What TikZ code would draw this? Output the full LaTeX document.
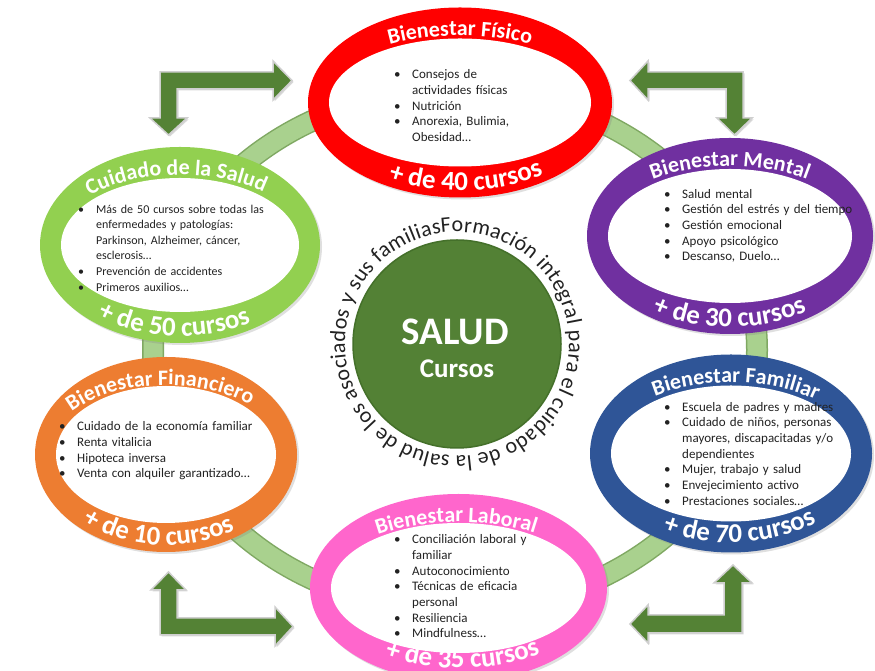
\documentclass[tikz,border=0pt]{standalone}
\usepackage{fontspec}
\setmainfont{Carlito}
\usetikzlibrary{shapes.geometric,decorations.text,shadows}
\definecolor{cRed}{HTML}{FF0000}
\definecolor{cPurple}{HTML}{7030A0}
\definecolor{cBlue}{HTML}{2F5597}
\definecolor{cPink}{HTML}{FF66CC}
\definecolor{cOrange}{HTML}{ED7D31}
\definecolor{cLime}{HTML}{92D050}
\definecolor{cGreen}{HTML}{538135}
\definecolor{cGreenD}{HTML}{44702A}
\definecolor{ringFill}{HTML}{A9D18E}
\definecolor{ringEdge}{HTML}{7FA862}
\definecolor{arrowFill}{HTML}{548235}
\definecolor{arrowEdge}{HTML}{CFCFCF}
\definecolor{textDark}{HTML}{222222}
\newcommand\bul[1]{\hangindent=18pt\hangafter=1\noindent\strut\makebox[18pt][l]{\textbullet}#1\par}
\newcommand\arctext[8]{\path[decorate,decoration={text along path,text align=center,text={|#7|#8}},shift={(#1,#2)}] (#5:#3 and #4) arc[start angle=#5,end angle=#6,x radius=#3,y radius=#4];}
\newcommand\ttl{\bfseries\fontsize{22}{22}\selectfont\color{white}}
\newcommand\cnt{\bfseries\fontsize{27}{27}\selectfont\color{white}}
\tikzset{
  outerell/.style={ellipse, inner sep=0, outer sep=0, draw=none, drop shadow={opacity=0.25, shadow xshift=2pt, shadow yshift=-2pt}},
  innerell/.style={ellipse, inner sep=0, outer sep=0, draw=none, fill=white},
  listbox/.style={anchor=north west, inner sep=0, align=left, text width=220pt, text=textDark, font=\fontsize{13}{15.7}\selectfont},
  bentarrow/.style={fill=arrowFill, draw=arrowEdge, line width=1.5pt, line join=miter, drop shadow={opacity=0.3, shadow xshift=1.5pt, shadow yshift=-1.5pt}},
}
\begin{document}
\begin{tikzpicture}[x=1pt,y=1pt]
\useasboundingbox (0,0) rectangle (875,671);
\clip (0,0) rectangle (875,671);
\fill[white] (0,0) rectangle (875,671);
% ring
\draw[draw=ringEdge, line width=22] (455,321) ellipse [x radius=302, y radius=260];
\draw[draw=ringFill, line width=19] (455,321) ellipse [x radius=302, y radius=260];
% arrows
\path[bentarrow] (160,599) -- (273,599) -- (273,610) -- (292,590.5) -- (273,571) -- (273,582) -- (177,582) -- (177,553) -- (187,553) -- (168.5,536) -- (150,553) -- (160,553) -- cycle;
\path[bentarrow] (743,599) -- (743,553) -- (752,553) -- (734.5,536) -- (717,553) -- (726,553) -- (726,582) -- (648,582) -- (648,571) -- (630,590.5) -- (648,610) -- (648,599) -- cycle;
\path[bentarrow] (160,36) -- (160,81) -- (151,81) -- (168.5,99) -- (186,81) -- (177,81) -- (177,53) -- (275,53) -- (275,64) -- (293,44.5) -- (275,25) -- (275,36) -- cycle;
\path[bentarrow] (742,38) -- (648,38) -- (648,28) -- (630,47) -- (648,66) -- (648,56) -- (724,56) -- (724,88) -- (714,88) -- (733,106) -- (752,88) -- (742,88) -- cycle;
% ellipses
\node[outerell, fill=cRed, minimum width=304, minimum height=190] (fisico) at (460,568.5) {};
\node[innerell, minimum width=262, minimum height=128] (fisicoIn) at (fisico.center) {};
\node[outerell, fill=cPurple, minimum width=286, minimum height=196] (mental) at (730,435) {};
\node[innerell, minimum width=244, minimum height=134] (mentalIn) at (mental.center) {};
\node[outerell, fill=cBlue, minimum width=282, minimum height=198] (familiar) at (731,217.5) {};
\node[innerell, minimum width=240, minimum height=136] (familiarIn) at (familiar.center) {};
\node[outerell, fill=cPink, minimum width=297, minimum height=188] (laboral) at (458.5,83) {};
\node[innerell, minimum width=255, minimum height=130] (laboralIn) at (laboral.center) {};
\node[outerell, fill=cOrange, minimum width=262, minimum height=195] (financiero) at (166,216.5) {};
\node[innerell, minimum width=220, minimum height=137] (financieroIn) at (financiero.center) {};
\node[outerell, fill=cLime, minimum width=280, minimum height=196] (salud) at (180,426) {};
\node[innerell, minimum width=238, minimum height=134] (saludIn) at (salud.center) {};
% titles and counts
\arctext{460}{568.5}{140}{67}{180}{0}{\ttl}{Bienestar Físico}
\arctext{460}{568.5}{146}{88}{194}{354}{\cnt}{+ de 40 cursos}
\arctext{730}{435}{131}{70}{180}{0}{\ttl}{Bienestar Mental}
\arctext{730}{435}{137}{91}{190}{350}{\cnt}{+ de 30 cursos}
\arctext{731}{217.5}{129}{71}{176}{-4}{\ttl}{Bienestar Familiar}
\arctext{731}{217.5}{135}{89}{196}{356}{\cnt}{+ de 70 cursos}
\arctext{458.5}{83}{136}{66}{182}{2}{\ttl}{Bienestar Laboral}
\arctext{458.5}{83}{142}{80}{193}{353}{\cnt}{+ de 35 cursos}
\arctext{166}{216.5}{119}{69.5}{185}{5}{\ttl}{Bienestar Financiero}
\arctext{166}{216.5}{125}{90.5}{185}{345}{\cnt}{+ de 10 cursos}
\arctext{180}{426}{128}{70}{183}{3}{\ttl}{Cuidado de la Salud}
\arctext{180}{426}{134}{91}{186}{346}{\cnt}{+ de 50 cursos}
% lists
\node[listbox] (fisicoL) at (394,603.5) {\bul{Consejos de\newline actividades físicas}\bul{Nutrición}\bul{Anorexia, Bulimia,\newline Obesidad…}};
\node[listbox] (mentalL) at (664,484) {\bul{Salud mental}\bul{Gestión del estrés y del tiempo}\bul{Gestión emocional}\bul{Apoyo psicológico}\bul{Descanso, Duelo…}};
\node[listbox] (familiarL) at (664,271) {\bul{Escuela de padres y madres}\bul{Cuidado de niños, personas\newline mayores, discapacitadas y/o\newline dependientes}\bul{Mujer, trabajo y salud}\bul{Envejecimiento activo}\bul{Prestaciones sociales…}};
\node[listbox] (laboralL) at (394,138.5) {\bul{Conciliación laboral y\newline familiar}\bul{Autoconocimiento}\bul{Técnicas de eficacia\newline personal}\bul{Resiliencia}\bul{Mindfulness…}};
\node[listbox] (financieroL) at (59,251.5) {\bul{Cuidado de la economía familiar}\bul{Renta vitalicia}\bul{Hipoteca inversa}\bul{Venta con alquiler garantizado…}};
\node[listbox, font=\fontsize{12}{15.6}\selectfont] (saludL) at (78,469) {\bul{Más de 50 cursos sobre todas las\newline enfermedades y patologías:\newline Parkinson, Alzheimer, cáncer,\newline esclerosis…}\bul{Prevención de accidentes}\bul{Primeros auxilios…}};
% centre
\node[circle, fill=cGreen, draw=cGreenD, line width=1.5, minimum size=208, inner sep=0] (core) at (457,327) {};
\node[text=white, font=\bfseries\fontsize{39}{39}\selectfont, inner sep=0] (coreT) at (455,339) {SALUD};
\node[text=white, font=\bfseries\fontsize{27}{27}\selectfont, inner sep=0] (coreS) at (457,302) {Cursos};
\path[decorate, shift={(457,327)}, decoration={text along path, text align=fit to path, text={|\fontsize{22}{22}\selectfont\color{textDark}|Formación integral para el cuidado de la salud de los asociados y sus familias}}] (98:112) arc[start angle=98, end angle=-262, radius=112];
\end{tikzpicture}
\end{document}
